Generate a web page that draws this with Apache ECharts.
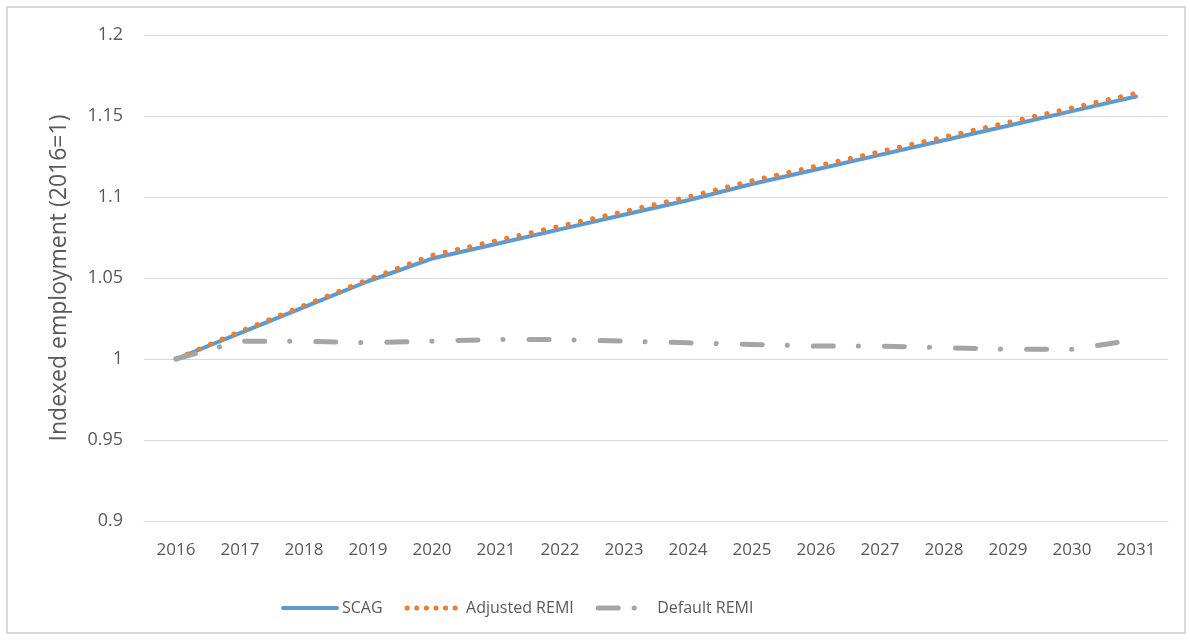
<!DOCTYPE html>
<html>
<head>
<meta charset="utf-8">
<script src="https://cdn.jsdelivr.net/npm/echarts@6/dist/echarts.min.js"></script>
<style>
  html, body { margin: 0; padding: 0; background: #fff; }
  #frame { position: absolute; left: 6px; top: 6px; width: 1180px; height: 628px; border: 2px solid #d9d9d9; box-sizing: border-box; }
  #chart { position: absolute; left: 0; top: 0; width: 1190px; height: 641px; }
</style>
</head>
<body>
<div id="frame"></div>
<div id="chart"></div>
<script>
// years on the x axis
const years = ['2016', '2017', '2018', '2019', '2020', '2021', '2022', '2023',
               '2024', '2025', '2026', '2027', '2028', '2029', '2030', '2031'];

const scag = [1.000, 1.016, 1.032, 1.048, 1.062, 1.071, 1.080, 1.089,
              1.098, 1.108, 1.117, 1.126, 1.135, 1.144, 1.153, 1.162];
const adjustedRemi = [1.000, 1.017, 1.033, 1.049, 1.064, 1.073, 1.082, 1.091,
                      1.100, 1.110, 1.119, 1.128, 1.137, 1.146, 1.155, 1.164];
const defaultRemi = [1.000, 1.011, 1.011, 1.010, 1.011, 1.012, 1.012, 1.011,
                     1.010, 1.009, 1.008, 1.008, 1.007, 1.006, 1.006, 1.012];

const font = 'Open Sans';
const textColor = '#595959';

const chart = echarts.init(document.getElementById('chart'));

const option = {
    animation: false,
    textStyle: { fontFamily: font },
    grid: { left: 144, right: 22, top: 35, bottom: 120 },
    legend: {
        bottom: 20,
        left: 276,
        itemWidth: 54,
        itemHeight: 14,
        itemGap: 22,
        itemStyle: { opacity: 0 },
        textStyle: { fontSize: 16, color: textColor, fontFamily: font },
        data: [
            { name: 'SCAG', lineStyle: { width: 4 } },
            { name: 'Adjusted REMI', lineStyle: { width: 5, type: [0.1, 9.5] } },
            { name: 'Default REMI', lineStyle: { width: 5, type: [20, 16, 0.1, 40] } }
        ]
    },
    xAxis: {
        type: 'category',
        data: years,
        boundaryGap: true,
        axisLine: { lineStyle: { color: '#d9d9d9', width: 1 } },
        axisTick: { show: false },
        axisLabel: { fontSize: 17, color: textColor, margin: 21 }
    },
    yAxis: {
        type: 'value',
        min: 0.9,
        max: 1.2,
        interval: 0.05,
        name: 'Indexed employment (2016=1)',
        nameLocation: 'middle',
        nameGap: 73,
        nameTextStyle: { fontSize: 23, color: textColor },
        axisLine: { show: false },
        axisTick: { show: false },
        splitLine: { lineStyle: { color: '#d9d9d9', width: 1 } },
        axisLabel: {
            fontSize: 18,
            color: textColor,
            margin: 21,
            formatter: v => String(parseFloat(v.toFixed(2)))
        }
    },
    series: [
        {
            name: 'SCAG',
            type: 'line',
            data: scag,
            symbol: 'none',
            z: 2,
            itemStyle: { color: '#5b9bd5' },
            lineStyle: { color: '#5b9bd5', width: 4, cap: 'round' }
        },
        {
            name: 'Adjusted REMI',
            type: 'line',
            data: adjustedRemi,
            symbol: 'none',
            z: 3,
            itemStyle: { color: '#ed7d31' },
            lineStyle: { color: '#ed7d31', width: 5, cap: 'round', type: [0.1, 12.5] }
        },
        {
            name: 'Default REMI',
            type: 'line',
            data: defaultRemi,
            symbol: 'none',
            z: 4,
            itemStyle: { color: '#a5a5a5' },
            lineStyle: { color: '#a5a5a5', width: 5, cap: 'round', type: [20, 25, 0.1, 26] }
        }
    ]
};

chart.setOption(option);
</script>
</body>
</html>
